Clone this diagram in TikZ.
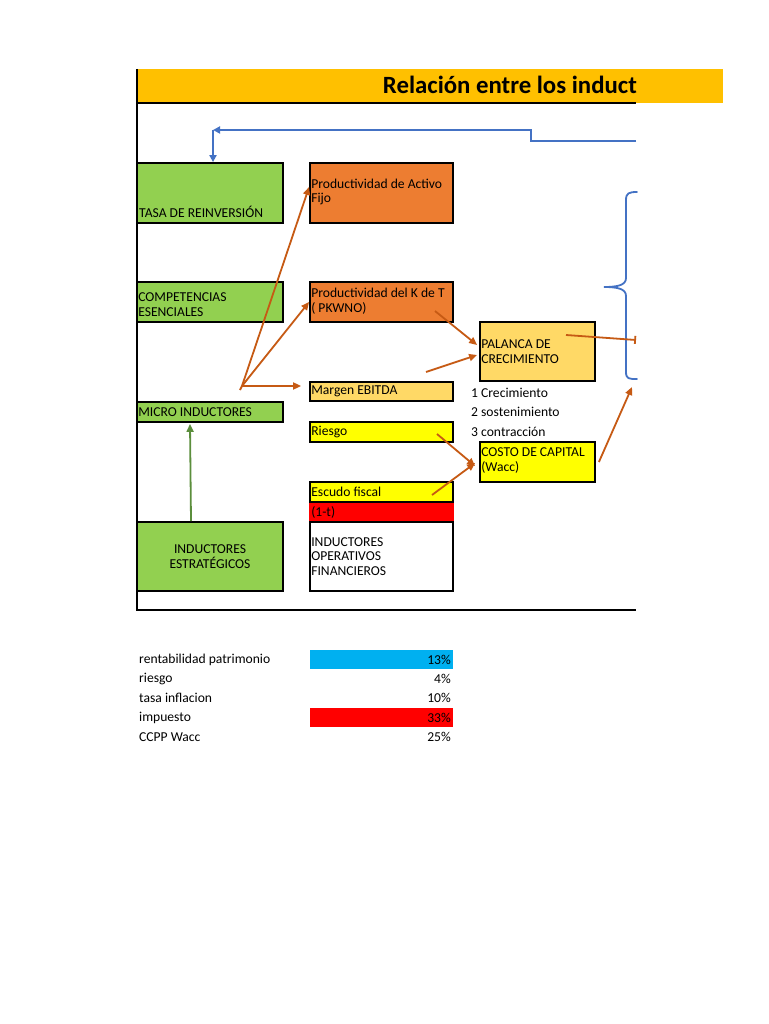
\documentclass[tikz,border=0pt]{standalone}
\usepackage{fontspec}
\setmainfont{Carlito}
\usetikzlibrary{arrows.meta,calc}
\definecolor{ttl}{HTML}{FFC000}
\definecolor{grn}{HTML}{92D050}
\definecolor{org}{HTML}{ED7D31}
\definecolor{lyel}{HTML}{FFD966}
\definecolor{yel}{HTML}{FFFF00}
\definecolor{rd}{HTML}{FF0000}
\definecolor{cyn}{HTML}{00B0F0}
\definecolor{arr}{HTML}{C65A14}
\definecolor{blu}{HTML}{4472C4}
\definecolor{garr}{HTML}{5B8E3C}
\begin{document}
\begin{tikzpicture}[x=1pt,y=-1pt,
  box/.style={draw=black,line width=1.8pt,inner sep=0pt},
  lbl/.style={inner sep=0pt,align=left,font=\fontsize{13.6}{14.5}\selectfont},
  txt/.style={lbl,anchor=west},
  oarrow/.style={draw=arr,line width=1.8pt,-{Triangle[length=8pt,width=7pt]}},
  frame/.style={draw=black,line width=1.8pt}]
\useasboundingbox (0,0) rectangle (768,1024);
\fill[white] (0,0) rectangle (768,1024);
% title bar
\fill[ttl] (137,69) rectangle (723,103);
\node[anchor=base east,inner sep=0pt,font=\fontsize{24.8}{27}\bfseries\selectfont] (title) at (637,94) {Relación entre los induct};
\draw[frame] (137,103) -- (636,103);
\draw[frame] (137,69) -- (137,610) -- (636,610);
% green boxes
\node[box,fill=grn,minimum width=146pt,minimum height=60pt] (tasa) at (210,193) {};
\node[txt] (tasat) at (139,212) {TASA DE REINVERSIÓN};
\node[box,fill=grn,minimum width=146pt,minimum height=40pt] (comp) at (210,302) {};
\node[txt] (compt) at ([xshift=2pt,yshift=-2.5pt]comp.west) {COMPETENCIAS\\ESENCIALES};
\node[box,fill=grn,minimum width=146pt,minimum height=20pt] (micro) at (210,412) {};
\node[txt] (microt) at ([xshift=2pt]micro.west) {MICRO INDUCTORES};
\node[box,fill=grn,minimum width=146pt,minimum height=69pt] (estr) at (210,556.5) {};
\node[lbl,align=center] (estrt) at (estr.center) {INDUCTORES\\ESTRATÉGICOS};
% middle column
\node[box,fill=org,minimum width=143pt,minimum height=60pt] (pactivo) at (381.5,193) {};
\node[txt] (pactivot) at ([xshift=2pt,yshift=1pt]pactivo.west) {Productividad de Activo\\Fijo};
\node[box,fill=org,minimum width=143pt,minimum height=40pt] (pkt) at (381.5,302) {};
\node[txt] (pktt) at ([xshift=2pt,yshift=1pt]pkt.west) {Productividad del K de T\\( PKWNO)};
\node[box,fill=lyel,minimum width=143pt,minimum height=19pt] (ebitda) at (381.5,391.5) {};
\node[txt] (ebitdat) at ([xshift=2pt]ebitda.west) {Margen EBITDA};
\node[box,fill=yel,minimum width=143pt,minimum height=20pt] (riesgo) at (381.5,432) {};
\node[txt] (riesgot) at ([xshift=2pt]riesgo.west) {Riesgo};
\node[box,fill=yel,minimum width=143pt,minimum height=20pt] (escudo) at (381.5,492) {};
\node[txt] (escudot) at ([xshift=2pt]escudo.west) {Escudo fiscal};
\node[box,draw=none,fill=rd,minimum width=145pt,minimum height=19pt] (unot) at (381.5,512.5) {};
\node[txt] (unott) at ([xshift=3pt]unot.west) {(1-t)};
\node[box,fill=white,minimum width=143pt,minimum height=69pt] (oper) at (381.5,556.5) {};
\node[txt] (opert) at ([xshift=2pt]oper.west) {INDUCTORES\\OPERATIVOS\\FINANCIEROS};
% right column
\node[box,fill=lyel,minimum width=115pt,minimum height=59pt] (palanca) at (537.5,351.5) {};
\node[txt] (palancat) at ([xshift=2pt]palanca.west) {PALANCA DE\\CRECIMIENTO};
\node[box,fill=yel,minimum width=115pt,minimum height=40pt] (costo) at (537.5,462) {};
\node[txt] (costot) at ([xshift=2pt,yshift=1.5pt]costo.west) {COSTO DE CAPITAL\\(Wacc)};
\node[txt] (l1) at (471,393) {1 Crecimiento};
\node[txt] (l2) at (471,412) {2 sostenimiento};
\node[txt] (l3) at (471,432) {3 contracción};
% brace
\draw[blu,line width=1.8pt,line cap=round] (637,192) .. controls (629,192) and (626,193) .. (626,200) -- (626,278) .. controls (626,285) and (618,287) .. (604,287) .. controls (618,287) and (626,289) .. (626,296) -- (626,372) .. controls (626,379) and (629,379) .. (637,379);
\coordinate (brc) at (636,340);
\coordinate (brbot) at (632,387);
% blue feedback connector
\coordinate (blstart) at (636,141);
\coordinate (bcorner) at (213,130);
\draw[blu,line width=1.8pt,-{Triangle[length=7pt,width=7pt]}] (blstart) -- (531,141) -- (531,130) -- (bcorner);
\draw[blu,line width=1.8pt,-{Triangle[length=7pt,width=7pt]}] (bcorner) -- ([xshift=3pt]tasa.north);
% orange arrows
\coordinate (mi) at (242,386);
\draw[arr,line width=1.8pt] (mi) -- (240,390);
\draw[oarrow] (mi) -- ([yshift=6pt]pactivo.west);
\draw[oarrow] (mi) -- (pkt.west);
\draw[oarrow] (mi) -- ([xshift=-8pt,yshift=5.5pt]ebitda.west);
\draw[oarrow] ([xshift=53.5pt,yshift=-9pt]pkt.center) -- ([xshift=-2pt,yshift=6.5pt]palanca.west);
\draw[oarrow] ([xshift=44.5pt,yshift=19.5pt]ebitda.center) -- ([xshift=-2pt,yshift=-3.5pt]palanca.west);
\draw[oarrow] ([xshift=55.5pt,yshift=-2pt]riesgo.center) -- ([xshift=-4pt,yshift=-4pt]costo.west);
\draw[oarrow] ([xshift=50.5pt,yshift=-3pt]escudo.center) -- ([xshift=-4pt,yshift=-1pt]costo.west);
\draw[arr,line width=1.8pt,-{Bar[width=8pt]}] ([xshift=28.5pt,yshift=16.5pt]palanca.center) -- (brc);
\draw[oarrow] ([xshift=3pt]costo.east) -- (brbot);
% green arrow
\draw[garr,line width=1.8pt,-{Triangle[length=8pt,width=7pt]}] ([xshift=-19pt]estr.north) -- ([xshift=-20pt,yshift=-1pt]micro.south);
% table
\fill[cyn] (310,650) rectangle (453,669);
\fill[rd] (310,708) rectangle (453,727);
\node[txt] (t1) at (139,660) {rentabilidad patrimonio};
\node[txt] (t2) at (139,679) {riesgo};
\node[txt] (t3) at (139,698) {tasa inflacion};
\node[txt] (t4) at (139,718) {impuesto};
\node[txt] (t5) at (139,737) {CCPP Wacc};
\node[lbl,anchor=east] (v1) at (451,660) {13\%};
\node[lbl,anchor=east] (v2) at (451,679) {4\%};
\node[lbl,anchor=east] (v3) at (451,698) {10\%};
\node[lbl,anchor=east] (v4) at (451,718) {33\%};
\node[lbl,anchor=east] (v5) at (451,737) {25\%};
\end{tikzpicture}
\end{document}
